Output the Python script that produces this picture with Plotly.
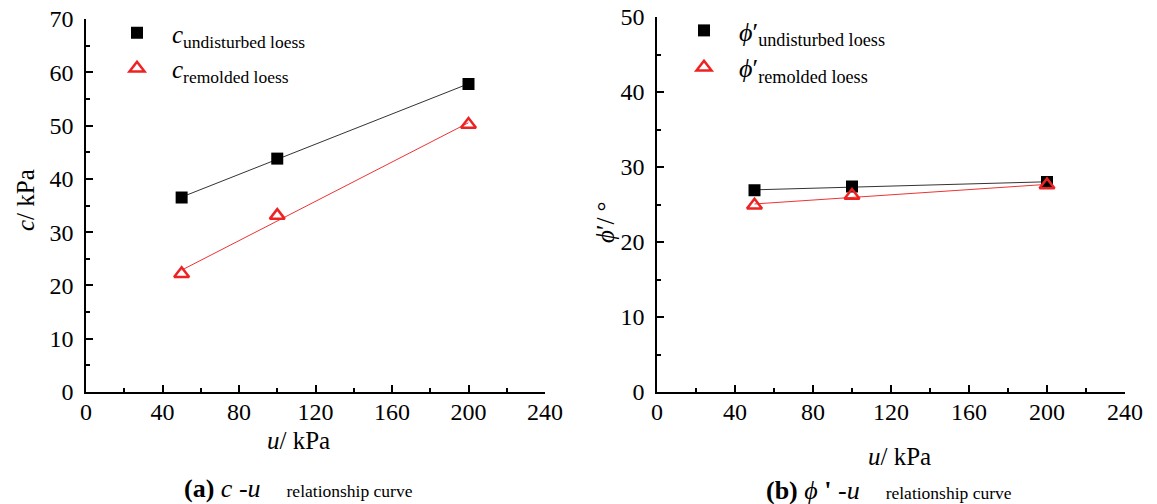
import numpy as np
import plotly.graph_objects as go

# ---- data ----
u_kpa = [50, 100, 200]
c_undisturbed = [36.5, 43.8, 57.8]
c_remolded = [22.2, 33.1, 50.2]
phi_undisturbed = [26.9, 27.4, 28.0]
phi_remolded = [24.9, 26.2, 27.6]

x_ticks = [0, 40, 80, 120, 160, 200, 240]

FONT = "Liberation Serif"
W, H = 1157, 504

def px(x):
    return x / W

def py(y):
    return 1 - y / H

def fit(xs, ys):
    k, b = np.polyfit(xs, ys, 1)
    xa = np.array([min(xs), max(xs)], dtype=float)
    return xa, k * xa + b

fig = go.Figure()

# ---- panel (a) ----
fx, fy = fit(u_kpa, c_undisturbed)
fig.add_trace(go.Scatter(x=fx, y=fy, mode="lines", line=dict(color="#333333", width=1),
                         showlegend=False, xaxis="x", yaxis="y", hoverinfo="skip"))
fx, fy = fit(u_kpa, c_remolded)
fig.add_trace(go.Scatter(x=fx, y=fy, mode="lines", line=dict(color="#ee3333", width=1),
                         showlegend=False, xaxis="x", yaxis="y", hoverinfo="skip"))
fig.add_trace(go.Scatter(x=u_kpa, y=c_undisturbed, mode="markers",
                         marker=dict(symbol="square", size=12, color="black"),
                         name="<i>c</i><sub>undisturbed loess</sub>",
                         xaxis="x", yaxis="y", legend="legend"))
fig.add_trace(go.Scatter(x=u_kpa, y=c_remolded, mode="markers",
                         marker=dict(symbol="triangle-up-open", size=13, color="#ee2222",
                                     line=dict(width=2.5, color="#ee2222")),
                         name="<i>c</i><sub>remolded loess</sub>",
                         xaxis="x", yaxis="y", legend="legend"))

# ---- panel (b) ----
fx, fy = fit(u_kpa, phi_undisturbed)
fig.add_trace(go.Scatter(x=fx, y=fy, mode="lines", line=dict(color="#333333", width=1),
                         showlegend=False, xaxis="x2", yaxis="y2", hoverinfo="skip"))
fx, fy = fit(u_kpa, phi_remolded)
fig.add_trace(go.Scatter(x=fx, y=fy, mode="lines", line=dict(color="#ee3333", width=1),
                         showlegend=False, xaxis="x2", yaxis="y2", hoverinfo="skip"))
fig.add_trace(go.Scatter(x=u_kpa, y=phi_undisturbed, mode="markers",
                         marker=dict(symbol="square", size=12, color="black"),
                         name="<i>ϕ</i>′<sub>undisturbed loess</sub>",
                         xaxis="x2", yaxis="y2", legend="legend2"))
fig.add_trace(go.Scatter(x=u_kpa, y=phi_remolded, mode="markers",
                         marker=dict(symbol="triangle-up-open", size=13, color="#ee2222",
                                     line=dict(width=2.5, color="#ee2222")),
                         name="<i>ϕ</i>′<sub>remolded loess</sub>",
                         xaxis="x2", yaxis="y2", legend="legend2"))

axis_common = dict(
    showline=True, linecolor="black", linewidth=1.5, mirror=False,
    ticks="inside", ticklen=7, tickwidth=1.5, tickcolor="black",
    showgrid=False, zeroline=False, automargin=False,
    tickfont=dict(family=FONT, size=24, color="black"),
    minor=dict(ticks="inside", ticklen=4, tickwidth=1.5, tickcolor="black", showgrid=False),
)

fig.update_layout(
    width=W, height=H, autosize=False,
    margin=dict(l=0, r=0, t=0, b=0, pad=0),
    paper_bgcolor="white", plot_bgcolor="white",
    font=dict(family=FONT, color="black"),
    xaxis=dict(domain=[px(86), px(545)], range=[0, 240], tickvals=x_ticks,
               minor_dtick=20, anchor="y", ticklabelstandoff=-3, **axis_common),
    yaxis=dict(domain=[py(392), py(19)], range=[0, 70], dtick=10,
               minor_dtick=5, anchor="x", ticklabelstandoff=6, **axis_common),
    xaxis2=dict(domain=[px(657), px(1125)], range=[0, 240], tickvals=x_ticks,
                minor_dtick=20, anchor="y2", ticklabelstandoff=-3, **axis_common),
    yaxis2=dict(domain=[py(392), py(17)], range=[0, 50], dtick=10,
                minor_dtick=5, anchor="x2", ticklabelstandoff=6, **axis_common),
    legend=dict(x=px(102), y=py(10), xanchor="left", yanchor="top",
                bgcolor="rgba(0,0,0,0)", font=dict(family=FONT, size=25, color="black"),
                tracegroupgap=0, itemwidth=60),
    legend2=dict(x=px(669), y=py(7), xanchor="left", yanchor="top",
                 bgcolor="rgba(0,0,0,0)", font=dict(family=FONT, size=26, color="black"),
                 tracegroupgap=0, itemwidth=60),
)

GAP = "&nbsp;" * 4
ann = [
    dict(text="<i>c</i>/ kPa", x=px(26), y=py(200), textangle=-90, font=dict(size=25)),
    dict(text="<i>ϕ</i>′/ °", x=px(605), y=py(222), textangle=-90, font=dict(size=25)),
    dict(text="<i>u</i>/ kPa", x=px(298), y=py(440), font=dict(size=25)),
    dict(text="<i>u</i>/ kPa", x=px(899), y=py(456), font=dict(size=25)),
    dict(text="<b>(a)</b> <i>c</i> -<i>u</i>" + GAP + "<span style='font-size:17.5px'>relationship curve</span>",
         x=px(298), y=py(488), font=dict(size=26)),
    dict(text="<b>(b)</b> <i>ϕ</i> <b>'</b> -<i>u</i>" + GAP + "<span style='font-size:17.5px'>relationship curve</span>",
         x=px(889), y=py(490), font=dict(size=26)),
]
for a in ann:
    a.update(xref="paper", yref="paper", showarrow=False, xanchor="center", yanchor="middle")
    a["font"] = dict(family=FONT, color="black", **a["font"])
fig.update_layout(annotations=ann)

fig.write_html("out.html")
